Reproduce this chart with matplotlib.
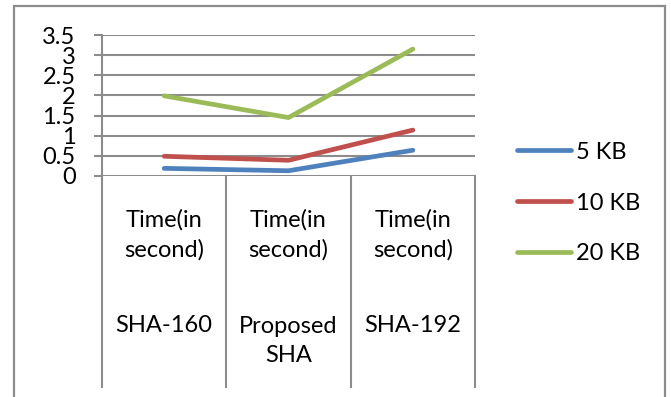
import matplotlib
matplotlib.use("Agg")
import matplotlib.pyplot as plt
from matplotlib.lines import Line2D
from matplotlib.patches import Rectangle

plt.rcParams['font.family'] = ['Lato', 'DejaVu Sans']

categories = ["SHA-160", "Proposed\nSHA", "SHA-192"]
metric = "Time(in\nsecond)"
series_names = ["5 KB", "10 KB", "20 KB"]
values_5kb = [0.19, 0.13, 0.64]
values_10kb = [0.49, 0.39, 1.14]
values_20kb = [1.99, 1.45, 3.15]
colors = ["#4F81BD", "#C0504D", "#9BBB59"]
yticks = [0, 0.5, 1, 1.5, 2, 2.5, 3, 3.5]
ytick_labels = ["0", "0.5", "1", "1.5", "2", "2.5", "3", "3.5"]

W, H = 671, 397
fig = plt.figure(figsize=(W / 100, H / 100), dpi=100)
fs = 17
grid_c = "#8C8C8C"
lw = 3.4

# outer frame
fig.add_artist(Rectangle((14 / W, -0.05), (665 - 14) / W, 1.05 - 6 / H,
                         transform=fig.transFigure, fill=False,
                         edgecolor="#8C8C8C", linewidth=1.6))

left, right = 102 / W, 475 / W
top, bottom = 1 - 35 / H, 1 - 176 / H
ax = fig.add_axes([left, bottom, right - left, top - bottom])

x = [0.5, 1.5, 2.5]
for vals, name, c in zip([values_5kb, values_10kb, values_20kb], series_names, colors):
    ax.plot(x, vals, color=c, lw=lw, solid_capstyle="round",
            solid_joinstyle="round", label=name, zorder=3)

ax.set_xlim(0, 3)
ax.set_ylim(0, 3.5)
ax.set_yticks(yticks)
ax.set_yticklabels(ytick_labels, fontsize=fs)
ax.set_xticks([])
ax.yaxis.grid(True, color=grid_c, lw=1.5)
ax.set_axisbelow(True)
for s in ["top", "right", "bottom"]:
    ax.spines[s].set_visible(False)
ax.spines["left"].set_color(grid_c)
ax.spines["left"].set_linewidth(1.5)
ax.tick_params(axis="y", length=6, width=1.5, color=grid_c, pad=13)

# category table below axis
y_low = (176 - 387) / (176 - 35)
trans = ax.get_xaxis_transform()
for b in [0, 1, 2, 3]:
    ax.add_artist(Line2D([b, b], [0, y_low], transform=trans, color=grid_c,
                         lw=1.5, clip_on=False))
for i, cat in enumerate(categories):
    ax.text(x[i], (176 - 235) / 141, metric, transform=trans, ha="center",
            va="center", fontsize=fs, linespacing=1.45)
    ypix = 341 if "\n" in cat else 325
    ax.text(x[i], (176 - ypix) / 141, cat, transform=trans, ha="center",
            va="center", fontsize=fs, linespacing=1.45)

leg = fig.legend(loc="center left", bbox_to_anchor=(505 / W, 1 - 203 / H),
                 frameon=False, fontsize=fs, handlelength=2.3,
                 handletextpad=0.2, labelspacing=1.27, borderpad=0)
for h in leg.get_lines():
    h.set_linewidth(lw)
    h.set_solid_capstyle("round")

fig.savefig("out.png", dpi=100)
